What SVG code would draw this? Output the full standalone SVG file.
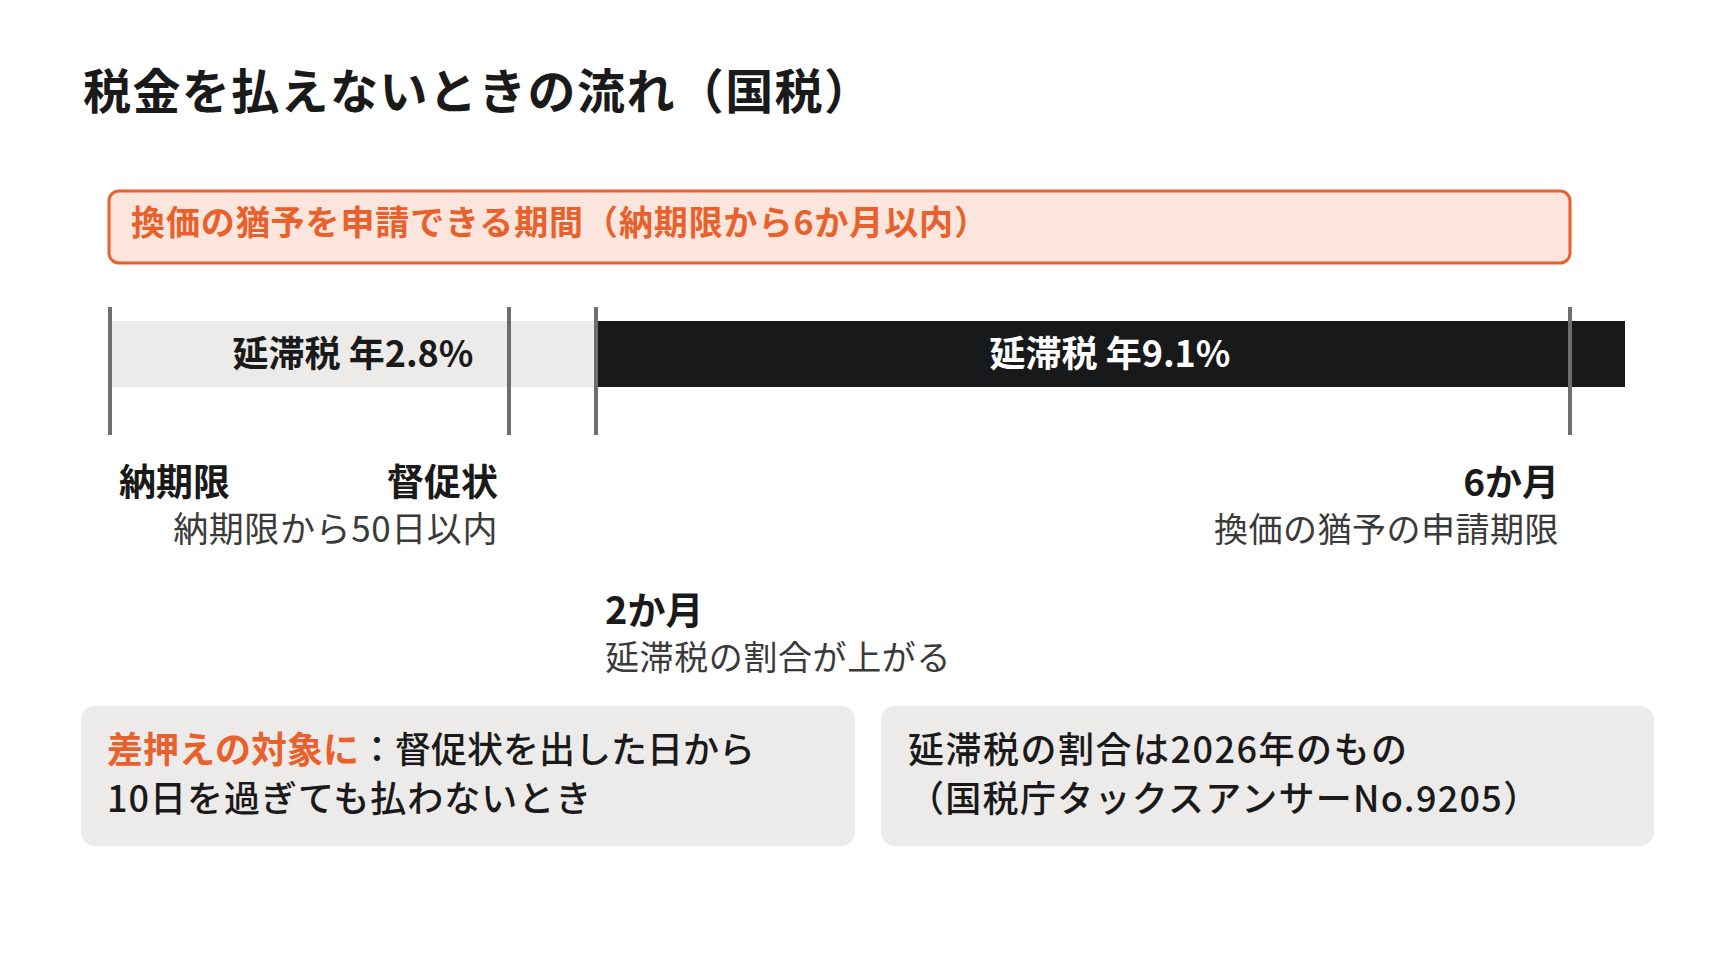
<svg xmlns="http://www.w3.org/2000/svg" width="1736" height="976" viewBox="0 0 1736 976">
<style>
text{font-family:"Noto Sans CJK JP","Noto Sans",sans-serif}
.b{font-weight:700;fill:#1a1a1a}
.r{font-weight:400;fill:#3a3a3a}
.m{font-weight:500;fill:#1a1a1a}
.o{fill:#e8612c;font-weight:700}
.tick{stroke:#6e6e6e;stroke-width:4}
.note{fill:#ecebe9}
</style>
<rect width="1736" height="976" fill="#ffffff"/>
<g id="title"><text class="b" x="83" y="109" font-size="48" letter-spacing="1.4">税金を払えないときの流れ（国税）</text></g>
<g id="period">
<rect x="109" y="191" width="1461" height="72" rx="10" fill="#fce5dc" stroke="#e8612c" stroke-width="3"/>
<text class="o" x="131" y="235" font-size="34" letter-spacing="0.9">換価の猶予を申請できる期間（納期限から6か月以内）</text>
</g>
<g id="bar-low">
<rect x="110" y="321" width="486" height="66" fill="#ecebe9"/>
<text class="b" x="353" y="367" font-size="36" text-anchor="middle">延滞税 年2.8%</text>
</g>
<g id="bar-high">
<rect x="596" y="321" width="1029" height="66" fill="#18191b"/>
<text x="1110" y="367" font-size="36" text-anchor="middle" font-weight="700" fill="#ffffff">延滞税 年9.1%</text>
</g>
<g id="connectors">
<line class="tick" x1="110" y1="307" x2="110" y2="435"/>
<line class="tick" x1="509" y1="307" x2="509" y2="435"/>
<line class="tick" x1="596" y1="307" x2="596" y2="435"/>
<line class="tick" x1="1570" y1="307" x2="1570" y2="435"/>
</g>
<g id="label-deadline"><text class="b" x="119" y="496" font-size="37">納期限</text></g>
<g id="label-notice">
<text class="b" x="498" y="496" font-size="37" text-anchor="end">督促状</text>
<text class="r" x="498" y="542" font-size="35" text-anchor="end" letter-spacing="0.6">納期限から50日以内</text>
</g>
<g id="label-6m">
<text class="b" x="1559" y="496" font-size="37" text-anchor="end">6か月</text>
<text class="r" x="1559" y="542" font-size="34" text-anchor="end" letter-spacing="0.5">換価の猶予の申請期限</text>
</g>
<g id="label-2m">
<text class="b" x="605" y="624" font-size="38">2か月</text>
<text class="r" x="605" y="670" font-size="34" letter-spacing="0.6">延滞税の割合が上がる</text>
</g>
<g id="note-left">
<rect class="note" x="81" y="706" width="774" height="140" rx="14"/>
<text class="m" x="107" y="763" font-size="36"><tspan class="o">差押えの対象に</tspan>：督促状を出した日から</text>
<text class="m" x="107" y="812" font-size="36" letter-spacing="1">10日を過ぎても払わないとき</text>
</g>
<g id="note-right">
<rect class="note" x="881" y="706" width="773" height="140" rx="14"/>
<text class="m" x="908" y="763" font-size="36" letter-spacing="1.5">延滞税の割合は2026年のもの</text>
<text class="m" x="908" y="812" font-size="36" letter-spacing="1.3">（国税庁タックスアンサーNo.9205）</text>
</g>
</svg>
